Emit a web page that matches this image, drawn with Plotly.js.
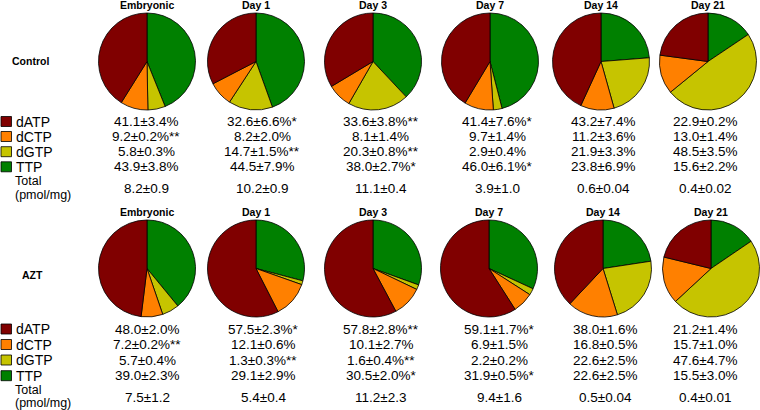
<!DOCTYPE html>
<html>
<head>
<meta charset="utf-8">
<script src="https://cdn.plot.ly/plotly-3.0.1.min.js"></script>
<style>html,body{margin:0;padding:0;background:#fff;}#chart{width:760px;height:410px;}</style>
</head>
<body>
<div id="chart"></div>
<script>
// ---- Data ----
var columns = ['Embryonic', 'Day 1', 'Day 3', 'Day 7', 'Day 14', 'Day 21'];
var nucleotides = ['dATP', 'dCTP', 'dGTP', 'TTP'];
var groups = ['Control', 'AZT'];
var nucColors = ['#800000', '#ff8000', '#c6c400', '#008000'];

// Control (% of total dNTP pool)
var ctrl_dATP = [41.1, 32.6, 33.6, 41.4, 43.2, 22.9];
var ctrl_dATP_sd = [3.4, 6.6, 3.8, 7.6, 7.4, 0.2];
var ctrl_dATP_sig = ['', '*', '**', '*', '', ''];
var ctrl_dCTP = [9.2, 8.2, 8.1, 9.7, 11.2, 13.0];
var ctrl_dCTP_sd = [0.2, 2.0, 1.4, 1.4, 3.6, 1.4];
var ctrl_dCTP_sig = ['**', '', '', '', '', ''];
var ctrl_dGTP = [5.8, 14.7, 20.3, 2.9, 21.9, 48.5];
var ctrl_dGTP_sd = [0.3, 1.5, 0.8, 0.4, 3.3, 3.5];
var ctrl_dGTP_sig = ['', '**', '**', '', '', ''];
var ctrl_TTP = [43.9, 44.5, 38.0, 46.0, 23.8, 15.6];
var ctrl_TTP_sd = [3.8, 7.9, 2.7, 6.1, 6.9, 2.2];
var ctrl_TTP_sig = ['', '', '*', '*', '', ''];
var ctrl_total = [8.2, 10.2, 11.1, 3.9, 0.6, 0.4];
var ctrl_total_sd = [0.9, 0.9, 0.4, 1.0, 0.04, 0.02];

// AZT
var azt_dATP = [48.0, 57.5, 57.8, 59.1, 38.0, 21.2];
var azt_dATP_sd = [2.0, 2.3, 2.8, 1.7, 1.6, 1.4];
var azt_dATP_sig = ['', '*', '**', '*', '', ''];
var azt_dCTP = [7.2, 12.1, 10.1, 6.9, 16.8, 15.7];
var azt_dCTP_sd = [0.2, 0.6, 2.7, 1.5, 0.5, 1.0];
var azt_dCTP_sig = ['**', '', '', '', '', ''];
var azt_dGTP = [5.7, 1.3, 1.6, 2.2, 22.6, 47.6];
var azt_dGTP_sd = [0.4, 0.3, 0.4, 0.2, 2.5, 4.7];
var azt_dGTP_sig = ['', '**', '**', '', '', ''];
var azt_TTP = [39.0, 29.1, 30.5, 31.9, 22.6, 15.5];
var azt_TTP_sd = [2.3, 2.9, 2.0, 0.5, 2.5, 3.0];
var azt_TTP_sig = ['', '', '*', '*', '', ''];
var azt_total = [7.5, 5.4, 11.2, 9.4, 0.5, 0.4];
var azt_total_sd = [1.2, 0.4, 2.3, 1.6, 0.04, 0.01];

// ---- Layout geometry (pixels) ----
var W = 760, H = 410;
var pieCx = [[147, 256, 373, 490, 601, 708], [147, 256, 373, 489, 603, 711]];
var pieCy = [61.5, 268.5];
var pieR = 48.5;
var textCx = [[146, 262, 381, 497, 603, 705], [147, 263, 381, 499, 605, 705]];
var titleY = [5, 212];
var rowY = [[121.5, 136.5, 151.7, 166.8], [329, 344.5, 360, 375.7]];
var totalY = [[181, 195, 188.5], [389.5, 403, 397.5]];
var rowLabelPos = [[30.5, 61], [32, 274.5]];

var FONT = 'Liberation Sans, Arial, Helvetica, sans-serif';
function px(x) { return x / W; }
function py(y) { return 1 - y / H; }

var groupData = [
  {vals: [ctrl_dATP, ctrl_dCTP, ctrl_dGTP, ctrl_TTP], sd: [ctrl_dATP_sd, ctrl_dCTP_sd, ctrl_dGTP_sd, ctrl_TTP_sd],
   sig: [ctrl_dATP_sig, ctrl_dCTP_sig, ctrl_dGTP_sig, ctrl_TTP_sig], total: ctrl_total, totalSd: ctrl_total_sd},
  {vals: [azt_dATP, azt_dCTP, azt_dGTP, azt_TTP], sd: [azt_dATP_sd, azt_dCTP_sd, azt_dGTP_sd, azt_TTP_sd],
   sig: [azt_dATP_sig, azt_dCTP_sig, azt_dGTP_sig, azt_TTP_sig], total: azt_total, totalSd: azt_total_sd}
];

function fmtSd(v) { return v < 0.1 ? v.toFixed(2) : v.toFixed(1); }

var traces = [];
var annotations = [];
var shapes = [];
// pie order: clockwise from 12 o'clock: TTP, dGTP, dCTP, dATP
var pieOrder = [3, 2, 1, 0];

for (var g = 0; g < 2; g++) {
  var gd = groupData[g];
  for (var c = 0; c < columns.length; c++) {
    var cx = pieCx[g][c], cy = pieCy[g];
    traces.push({
      type: 'pie',
      labels: pieOrder.map(function(i){ return nucleotides[i]; }),
      values: pieOrder.map(function(i){ return gd.vals[i][c]; }),
      marker: {colors: pieOrder.map(function(i){ return nucColors[i]; }), line: {color: '#000', width: 0.8}},
      sort: false,
      direction: 'clockwise',
      rotation: 0,
      textinfo: 'none',
      hoverinfo: 'label+percent',
      showlegend: false,
      domain: {x: [px(cx - pieR), px(cx + pieR)], y: [py(cy + pieR), py(cy - pieR)]}
    });
    annotations.push({
      xref: 'paper', yref: 'paper', x: px(cx), y: py(titleY[g]), xanchor: 'center', yanchor: 'middle',
      text: '<b>' + columns[c] + '</b>', showarrow: false, font: {family: FONT, size: 10.5, color: '#000'}
    });
    for (var n = 0; n < 4; n++) {
      annotations.push({
        xref: 'paper', yref: 'paper', x: px(textCx[g][c]), y: py(rowY[g][n]), xanchor: 'center', yanchor: 'middle',
        text: gd.vals[n][c].toFixed(1) + '±' + gd.sd[n][c].toFixed(1) + '%' + gd.sig[n][c],
        showarrow: false, font: {family: FONT, size: 13.5, color: '#000'}
      });
    }
    annotations.push({
      xref: 'paper', yref: 'paper', x: px(textCx[g][c]), y: py(totalY[g][2]), xanchor: 'center', yanchor: 'middle',
      text: gd.total[c].toFixed(1) + '±' + fmtSd(gd.totalSd[c]),
      showarrow: false, font: {family: FONT, size: 13.5, color: '#000'}
    });
  }
  // row label
  annotations.push({
    xref: 'paper', yref: 'paper', x: px(rowLabelPos[g][0]), y: py(rowLabelPos[g][1]), xanchor: 'center', yanchor: 'middle',
    text: '<b>' + groups[g] + '</b>', showarrow: false, font: {family: FONT, size: 10.5, color: '#000'}
  });
  // legend rows
  for (var n = 0; n < 4; n++) {
    shapes.push({
      type: 'rect', xref: 'paper', yref: 'paper',
      x0: px(1), x1: px(11.5), y0: py(rowY[g][n] + 5), y1: py(rowY[g][n] - 5),
      fillcolor: nucColors[n], line: {color: '#000', width: 0.8}
    });
    annotations.push({
      xref: 'paper', yref: 'paper', x: px(14), y: py(rowY[g][n]), xanchor: 'left', yanchor: 'middle',
      text: nucleotides[n], showarrow: false, font: {family: FONT, size: 14, color: '#000'}
    });
  }
  annotations.push({
    xref: 'paper', yref: 'paper', x: px(14), y: py(totalY[g][0]), xanchor: 'left', yanchor: 'middle',
    text: 'Total', showarrow: false, borderpad: 0, font: {family: FONT, size: 12.5, color: '#000'}
  });
  annotations.push({
    xref: 'paper', yref: 'paper', x: px(14), y: py(totalY[g][1]), xanchor: 'left', yanchor: 'middle',
    text: '(pmol/mg)', showarrow: false, borderpad: 0, font: {family: FONT, size: 12.5, color: '#000'}
  });
}

var layout = {
  width: W, height: H,
  margin: {l: 0, r: 0, t: 0, b: 0},
  paper_bgcolor: '#fff', plot_bgcolor: '#fff',
  showlegend: false,
  annotations: annotations,
  shapes: shapes
};

Plotly.newPlot('chart', traces, layout, {displayModeBar: false, staticPlot: true});
</script>
</body>
</html>
